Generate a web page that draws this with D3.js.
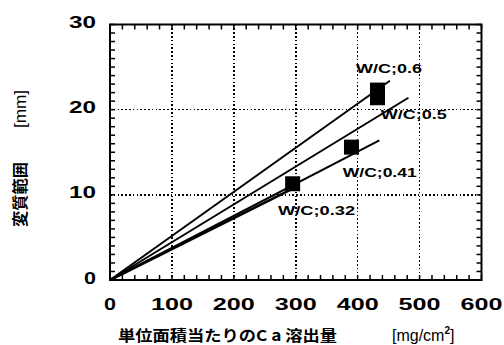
<!DOCTYPE html>
<html><head><meta charset="utf-8">
<script src="https://cdn.jsdelivr.net/npm/d3@7"></script>
<style>
html,body{margin:0;padding:0;background:#fff;}
svg{display:block;}
text{fill:#000;}
</style></head>
<body>
<svg id="c" width="504" height="345"></svg>
<script>
// ---- data ----
const xTicks = [0, 100, 200, 300, 400, 500, 600];
const yTicks = [0, 10, 20, 30];
const seriesNames = ["W/C;0.6", "W/C;0.5", "W/C;0.41", "W/C;0.32"];
const lineEndX = [452, 482, 435, 300];
const lineEndY = [23.4, 21.4, 16.4, 10.9];
const pointSeries = ["W/C;0.6", "W/C;0.6", "W/C;0.41", "W/C;0.32"];
const pointX = [432, 432, 390, 295];
const pointY = [22.3, 21.4, 15.6, 11.3];
const xTitle = "単位面積当たりのC a 溶出量";
const xUnit = "[mg/cm";
const yTitle = "変質範囲";
const yUnit = "[mm]";

// ---- layout ----
const svg = d3.select("#c");
const x = d3.scaleLinear().domain([0, 600]).range([110, 481.5]);
const y = d3.scaleLinear().domain([0, 30]).range([280, 24.5]);
const L = x(0), R = x(600), T = y(30), B = y(0);

// grid
const g = svg.append("g");
g.selectAll("line.gx").data(xTicks.filter(d => d > 0 && d < 600)).join("line")
  .attr("x1", d => x(d)).attr("x2", d => x(d)).attr("y1", T).attr("y2", B)
  .attr("stroke", "#000").attr("stroke-width", 1.6).attr("stroke-dasharray", "1.6,2.2")
  .attr("shape-rendering", "crispEdges");
g.selectAll("line.gy").data(yTicks.filter(d => d > 0 && d < 30)).join("line")
  .attr("y1", d => y(d)).attr("y2", d => y(d)).attr("x1", L).attr("x2", R)
  .attr("stroke", "#000").attr("stroke-width", 1.6).attr("stroke-dasharray", "1.6,2.2")
  .attr("shape-rendering", "crispEdges");

// minor / major ticks inward on all four sides
const xMinor = d3.range(0, 601, 20);
const yMinor = d3.range(0, 31, 1);
const tk = 5;
g.selectAll("line.tb").data(xMinor).join("line")
  .attr("x1", d => x(d)).attr("x2", d => x(d)).attr("y1", B).attr("y2", B - tk)
  .attr("stroke", "#000").attr("stroke-width", 1.5);
g.selectAll("line.tt").data(xMinor).join("line")
  .attr("x1", d => x(d)).attr("x2", d => x(d)).attr("y1", T).attr("y2", T + tk)
  .attr("stroke", "#000").attr("stroke-width", 1.5);
g.selectAll("line.tl").data(yMinor).join("line")
  .attr("y1", d => y(d)).attr("y2", d => y(d)).attr("x1", L).attr("x2", L + tk)
  .attr("stroke", "#000").attr("stroke-width", 1.5);
g.selectAll("line.tr").data(yMinor).join("line")
  .attr("y1", d => y(d)).attr("y2", d => y(d)).attr("x1", R).attr("x2", R - tk)
  .attr("stroke", "#000").attr("stroke-width", 1.5);

// frame
g.append("rect").attr("x", L).attr("y", T).attr("width", R - L).attr("height", B - T)
  .attr("fill", "none").attr("stroke", "#000").attr("stroke-width", 2);

// lines from origin
const lineGen = d3.line().x(d => x(d[0])).y(d => y(d[1]));
seriesNames.forEach((s, i) => {
  g.append("path").datum([[0, 0], [lineEndX[i], lineEndY[i]]])
    .attr("d", lineGen).attr("fill", "none").attr("stroke", "#000")
    .attr("stroke-width", i === 3 ? 2.6 : 2);
});

// square markers
const sq = 15;
g.selectAll("rect.pt").data(pointX.map((v, i) => [v, pointY[i]])).join("rect")
  .attr("x", d => x(d[0]) - sq / 2).attr("y", d => y(d[1]) - sq / 2)
  .attr("width", sq).attr("height", sq).attr("fill", "#000");

// series labels (data coordinates of text start / baseline)
const labelX = [397.4, 437.3, 375.9, 271.4];
const labelY = [24.3, 18.87, 12.15, 7.63];
const labelW = [66, 66, 74, 77];
seriesNames.forEach((s, i) => {
  g.append("text").attr("x", x(labelX[i])).attr("y", y(labelY[i]))
    .attr("font-family", "Liberation Sans, Arial, sans-serif")
    .attr("font-weight", "bold").attr("font-size", 13.5)
    .attr("textLength", labelW[i]).attr("lengthAdjust", "spacingAndGlyphs")
    .text(s);
});

// tick labels
const tw = n => (n === 1 ? 12 : n === 2 ? 27 : 42);
g.selectAll("text.xt").data(xTicks).join("text")
  .attr("x", d => x(d)).attr("y", 310).attr("text-anchor", "middle")
  .attr("font-family", "Liberation Sans, Arial, sans-serif")
  .attr("font-weight", "bold").attr("font-size", 17)
  .attr("textLength", d => tw(String(d).length)).attr("lengthAdjust", "spacingAndGlyphs")
  .text(d => d);
g.selectAll("text.yt").data(yTicks).join("text")
  .attr("x", 96).attr("y", d => y(d) + 3.5).attr("text-anchor", "end")
  .attr("font-family", "Liberation Sans, Arial, sans-serif")
  .attr("font-weight", "bold").attr("font-size", 17)
  .attr("textLength", d => tw(String(d).length)).attr("lengthAdjust", "spacingAndGlyphs")
  .text(d => d);

// axis titles
const cjk = "'Noto Sans CJK JP', 'Noto Sans CJK SC', sans-serif";
g.append("text").attr("x", 118).attr("y", 341)
  .attr("font-family", cjk).attr("font-weight", "bold").attr("font-size", 15)
  .attr("textLength", 219).attr("lengthAdjust", "spacingAndGlyphs")
  .text(xTitle);
const xu = g.append("text").attr("x", 392).attr("y", 341)
  .attr("font-family", "Liberation Sans, Arial, sans-serif").attr("font-size", 16);
xu.append("tspan").text(xUnit);
xu.append("tspan").attr("dy", -7).attr("font-size", 10).attr("font-weight", "bold").text("2");
xu.append("tspan").attr("dy", 7).text("]");

g.append("text").attr("transform", "translate(26,227) rotate(-90)")
  .attr("font-family", cjk).attr("font-weight", "bold").attr("font-size", 16)
  .attr("textLength", 65).attr("lengthAdjust", "spacingAndGlyphs")
  .text(yTitle);
g.append("text").attr("transform", "translate(26,128) rotate(-90)")
  .attr("font-family", "Liberation Sans, Arial, sans-serif").attr("font-size", 16)
  .attr("textLength", 38).attr("lengthAdjust", "spacingAndGlyphs")
  .text(yUnit);
</script>
</body></html>
